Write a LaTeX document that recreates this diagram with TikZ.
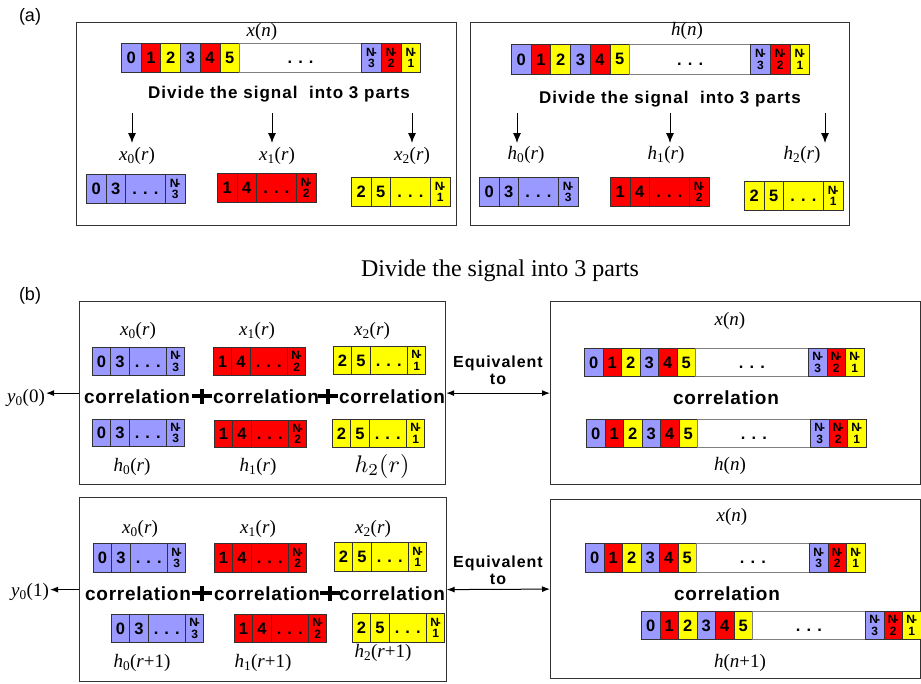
\documentclass[tikz,border=0pt]{standalone}
\usepackage[no-math]{fontspec}
\usepackage{graphicx}
\setmainfont{Liberation Serif}
\setsansfont{Liberation Sans}
\newfontfamily\spacedhead{Liberation Sans}[LetterSpace=6]
\newfontfamily\spacedcorr{Liberation Sans}[LetterSpace=4]
\usetikzlibrary{arrows.meta}

\definecolor{cblue}{RGB}{153,153,255}
\definecolor{cred}{RGB}{255,0,0}
\definecolor{cyellow}{RGB}{255,255,0}
\definecolor{edge}{RGB}{50,50,50}

\tikzset{
  cell/.style={draw=edge, line width=0.8pt, inner sep=0pt, anchor=north west,
    font=\sffamily\bfseries\fontsize{16.5}{16.5}\selectfont},
  ncell/.style={cell, align=center, font=\sffamily\bfseries\fontsize{12}{11.5}\selectfont},
  panel/.style={draw=edge, line width=1.2pt, anchor=north west, inner sep=0pt},
  sig/.style={font=\fontsize{19}{19}\selectfont, inner sep=1pt},
  headline/.style={font=\spacedhead\bfseries\fontsize{17}{18}\selectfont, align=center, inner sep=1pt},
  eqtext/.style={font=\spacedhead\bfseries\fontsize{16}{17}\selectfont, align=center, inner sep=1pt},
  corr/.style={font=\spacedcorr\bfseries\fontsize{19}{19}\selectfont, inner sep=1pt},
  tag/.style={font=\sffamily\fontsize{18}{18}\selectfont},
  arr/.style={-{Latex[length=10pt,width=8pt]}, line width=1pt},
  outarr/.style={-{Latex[length=8pt,width=6pt]}, line width=1pt},
  biarr/.style={{Latex[length=8pt,width=6pt]}-{Latex[length=8pt,width=6pt]}, line width=1pt},
  plusmark/.style={line width=3.5pt},
}

% "N-k" label stacked in a cell
\newcommand\nlab[1]{N\kern-2pt-\\#1}
% signal label such as x_0(r)
\newcommand\sigl[3]{\textit{#1}\textsubscript{#2}(\textit{#3})}

% full signal: 0..5, gap, N-3, N-2, N-1
% #1 name, #2 (x,y) top-left, #3 cell width, #4 gap width, #5 height
\newcommand\fullstrip[5]{%
  \begin{scope}[shift={#2}]
    \foreach \v/\c [count=\i from 0] in {0/cblue,1/cred,2/cyellow,3/cblue,4/cred,5/cyellow}
      \node[cell, fill=\c, minimum width=#3pt, minimum height=#5pt] (#1-\v) at ({\i*#3},0) {\v};
    \node[cell, fill=white, draw=gray, minimum width=#4pt, minimum height=#5pt] (#1-gap)
      at ({6*#3},0) {\vphantom{0}. . .};
    \foreach \v/\c [count=\i from 0] in {3/cblue,2/cred,1/cyellow}
      \node[ncell, fill=\c, minimum width=#3pt, minimum height=#5pt] (#1-n\v)
        at ({6*#3+#4+\i*#3},0) {\nlab{\v}};
  \end{scope}}

% one of the three sub-signals
% #1 name, #2 (x,y), #3 colour, #4 #5 first samples, #6 last index,
% #7 cell width, #8 dots width, #9 height
\newcommand\substrip[9]{%
  \begin{scope}[shift={#2}]
    \node[cell, fill=#3, minimum width=#7pt, minimum height=#9pt] (#1-a) at (0,0) {#4};
    \node[cell, fill=#3, minimum width=#7pt, minimum height=#9pt] (#1-b) at (#7,0) {#5};
    \node[cell, fill=#3, minimum width=#8pt, minimum height=#9pt] (#1-gap) at ({2*#7},0) {\vphantom{0}. . .};
    \node[ncell, fill=#3, minimum width=#7pt, minimum height=#9pt] (#1-n) at ({2*#7+#8},0) {\nlab{#6}};
  \end{scope}}

\begin{document}
\begin{tikzpicture}[x=1pt,y=-1pt]
\useasboundingbox (0,0) rectangle (921,683);

% ---------------- (a) ----------------
\node[tag] (taga) at (30,17) {(a)};

% x(n) split
\node[panel, minimum width=380pt, minimum height=203pt] (pxa) at (76,22) {};
\node[sig] (lxn) at (262,32) {\textit{x}(\textit{n})};
\fullstrip{xa}{(121,43)}{19.7}{122}{29}
\node[headline] (dxa) at (279,94) {Divide the signal~ into 3 parts};
\coordinate (ax0s) at (132,113); \coordinate (ax0e) at (132,143);
\coordinate (ax1s) at (272,113); \coordinate (ax1e) at (272,143);
\coordinate (ax2s) at (412,113); \coordinate (ax2e) at (412,143);
\draw[arr] (ax0s) -- (ax0e);
\draw[arr] (ax1s) -- (ax1e);
\draw[arr] (ax2s) -- (ax2e);
\node[sig] (lx0a) at (137,156) {\sigl{x}{0}{r}};
\node[sig] (lx1a) at (277,156) {\sigl{x}{1}{r}};
\node[sig] (lx2a) at (412,156) {\sigl{x}{2}{r}};
\substrip{x0a}{(86,174)}{cblue}{0}{3}{3}{19.5}{40}{29}
\substrip{x1a}{(217,173)}{cred}{1}{4}{2}{19.5}{40}{29}
\substrip{x2a}{(351,177)}{cyellow}{2}{5}{1}{19.5}{40}{29}

% h(n) split
\node[panel, minimum width=379pt, minimum height=203pt] (pha) at (470,22) {};
\node[sig] (lhn) at (687,31) {\textit{h}(\textit{n})};
\fullstrip{ha}{(511,44)}{19.7}{121}{30}
\node[headline] (dha) at (670,99) {Divide the signal~ into 3 parts};
\coordinate (ah0s) at (517,113); \coordinate (ah0e) at (517,143);
\coordinate (ah1s) at (670,113); \coordinate (ah1e) at (670,143);
\coordinate (ah2s) at (825,113); \coordinate (ah2e) at (825,143);
\draw[arr] (ah0s) -- (ah0e);
\draw[arr] (ah1s) -- (ah1e);
\draw[arr] (ah2s) -- (ah2e);
\node[sig] (lh0a) at (526,155) {\sigl{h}{0}{r}};
\node[sig] (lh1a) at (666,155) {\sigl{h}{1}{r}};
\node[sig] (lh2a) at (802,155) {\sigl{h}{2}{r}};
\substrip{h0a}{(479,177)}{cblue}{0}{3}{3}{19.5}{40}{29}
\substrip{h1a}{(610,177)}{cred}{1}{4}{2}{19.5}{40}{29}
\substrip{h2a}{(744,181)}{cyellow}{2}{5}{1}{19.5}{40}{29}

\node[font=\fontsize{24}{24}\selectfont] (cap) at (500,271) {Divide the signal into 3 parts};

% ---------------- (b) ----------------
\node[tag] (tagb) at (30,296) {(b)};

% y0(0): sum of three partial correlations
\node[panel, minimum width=366pt, minimum height=183pt] (pb1) at (79,301) {};
\node[sig] (lx0b) at (138,331) {\sigl{x}{0}{r}};
\node[sig] (lx1b) at (257,331) {\sigl{x}{1}{r}};
\node[sig] (lx2b) at (372,331) {\sigl{x}{2}{r}};
\substrip{x0b}{(92,347)}{cblue}{0}{3}{3}{18.3}{37.5}{28}
\substrip{x1b}{(213,347)}{cred}{1}{4}{2}{18.3}{37.5}{28}
\substrip{x2b}{(333,346)}{cyellow}{2}{5}{1}{18.3}{37.5}{28}
\node[corr] (c0b) at (137,397) {correlation};
\node[corr] (c1b) at (266,397) {correlation};
\node[corr] (c2b) at (392,397) {correlation};
\coordinate (p0b) at (202,396); \coordinate (p1b) at (328,396);
\draw[plusmark] ([xshift=-10pt]p0b) -- ([xshift=10pt]p0b) ([yshift=-7.5pt]p0b) -- ([yshift=7.5pt]p0b);
\draw[plusmark] ([xshift=-10pt]p1b) -- ([xshift=10pt]p1b) ([yshift=-7.5pt]p1b) -- ([yshift=7.5pt]p1b);
\substrip{h0b}{(92,419)}{cblue}{0}{3}{3}{18.3}{37.5}{27}
\substrip{h1b}{(214,420)}{cred}{1}{4}{2}{18.3}{37.5}{27}
\substrip{h2b}{(332,419)}{cyellow}{2}{5}{1}{18.3}{37.5}{28}
\node[sig] (lh0b) at (132,467) {\sigl{h}{0}{r}};
\node[sig] (lh1b) at (258,467) {\sigl{h}{1}{r}};
\node (lh2b) at (382,466) {\scalebox{2.4}{$h_2(r)$}};
\node[sig] (y00) at (26,398) {\textit{y}\textsubscript{0}(0)};
\draw[outarr] (pb1.west) -- (pb1.west -| y00.east);

% full correlation x(n), h(n)
\node[panel, minimum width=369.5pt, minimum height=183pt] (pb2) at (550,301) {};
\node[sig] (lxb2) at (730,321) {\textit{x}(\textit{n})};
\fullstrip{xb2}{(584,348)}{18.5}{113}{28}
\node[corr] (cb2) at (726,398) {correlation};
\fullstrip{hb2}{(586,419)}{18.5}{113}{28}
\node[sig] (lhb2) at (730,466) {\textit{h}(\textit{n})};
\node[eqtext] (eq1) at (498,370) {Equivalent\\to};
\draw[biarr] (pb1.east) -- (pb2.west);

% y0(1): sum of three partial correlations with shifted h
\node[panel, minimum width=366.5pt, minimum height=184pt] (pb3) at (79,497) {};
\node[sig] (lx0c) at (140,529) {\sigl{x}{0}{r}};
\node[sig] (lx1c) at (258,529) {\sigl{x}{1}{r}};
\node[sig] (lx2c) at (373,529) {\sigl{x}{2}{r}};
\substrip{x0c}{(93,543)}{cblue}{0}{3}{3}{18.3}{37.5}{29}
\substrip{x1c}{(214,543)}{cred}{1}{4}{2}{18.3}{37.5}{29}
\substrip{x2c}{(334,542)}{cyellow}{2}{5}{1}{18.3}{37.5}{29}
\node[corr] (c0c) at (138,594) {correlation};
\node[corr] (c1c) at (267,594) {correlation};
\node[corr] (c2c) at (392,594) {correlation};
\coordinate (p0c) at (202,593); \coordinate (p1c) at (330,593);
\draw[plusmark] ([xshift=-10pt]p0c) -- ([xshift=10pt]p0c) ([yshift=-7.5pt]p0c) -- ([yshift=7.5pt]p0c);
\draw[plusmark] ([xshift=-10pt]p1c) -- ([xshift=10pt]p1c) ([yshift=-7.5pt]p1c) -- ([yshift=7.5pt]p1c);
\substrip{h0c}{(111,614)}{cblue}{0}{3}{3}{18.3}{37.5}{28}
\substrip{h1c}{(234,614)}{cred}{1}{4}{2}{18.3}{37.5}{28}
\substrip{h2c}{(352,613)}{cyellow}{2}{5}{1}{18.3}{37.5}{29}
\node[sig] (lh0c) at (142,663) {\textit{h}\textsubscript{0}(\textit{r}+1)};
\node[sig] (lh1c) at (263,663) {\textit{h}\textsubscript{1}(\textit{r}+1)};
\node[sig] (lh2c) at (383,653) {\textit{h}\textsubscript{2}(\textit{r}+1)};
\node[sig] (y01) at (30,592) {\textit{y}\textsubscript{0}(1)};
\draw[outarr] (pb3.west) -- (pb3.west -| y01.east);

% full correlation x(n), h(n+1)
\node[panel, minimum width=369.5pt, minimum height=179pt] (pb4) at (550,499) {};
\node[sig] (lxb4) at (732,517) {\textit{x}(\textit{n})};
\fullstrip{xb4}{(585,543)}{18.5}{113}{29}
\node[corr] (cb4) at (727,594) {correlation};
\fullstrip{hb4}{(641,611)}{18.5}{113}{28}
\node[sig] (lhb4) at (740,663) {\textit{h}(\textit{n}+1)};
\node[eqtext] (eq2) at (498,570) {Equivalent\\to};
\draw[biarr] (pb3.east) -- (pb4.west);
\end{tikzpicture}
\end{document}
